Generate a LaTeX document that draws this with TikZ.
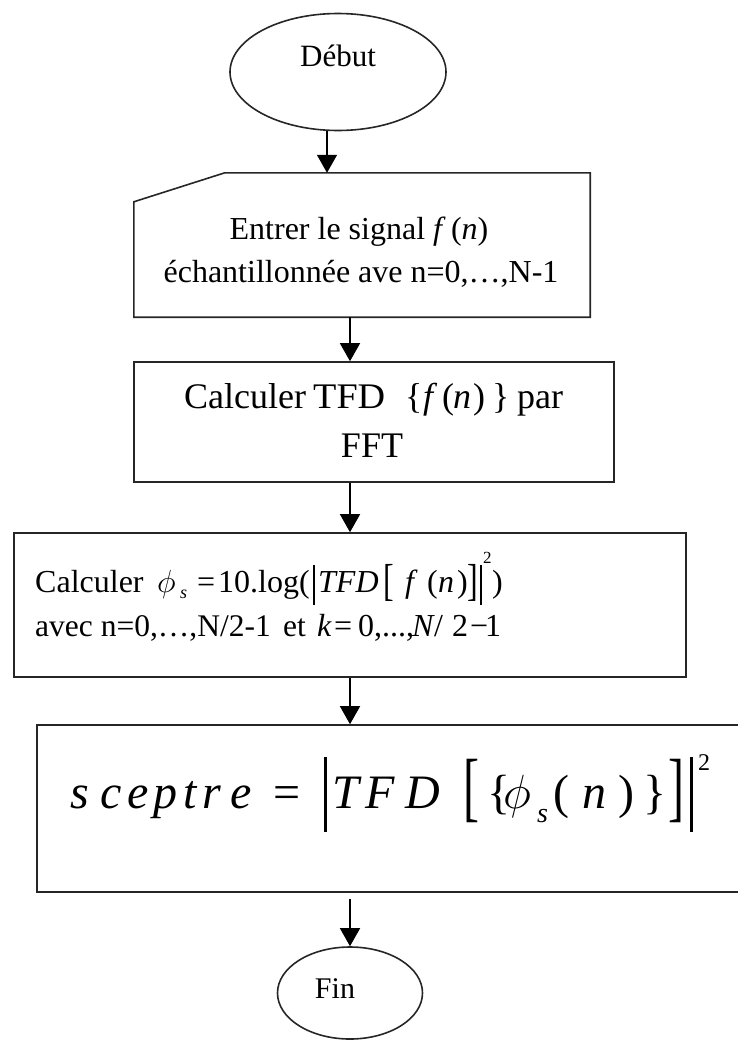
\RequirePackage{fix-cm}
\documentclass[tikz,border=0pt]{standalone}
\usepackage{fontspec}
\setmainfont{Liberation Serif}
\usepackage{graphicx}
\usetikzlibrary{shapes.geometric,arrows.meta}
\newcommand\gbx[2]{\makebox[#1][l]{#2}}
\newcommand\vbarx[3]{\raisebox{-#2}{\rule{#1}{#3}}}
\begin{document}
\begin{tikzpicture}[x=1pt,y=-1pt,
  boxline/.style={draw=black!85,line width=1.6pt},
  arr/.style={line width=1.5pt,-{Triangle[length=18pt,width=20pt]}},
  lbl/.style={inner sep=0pt,anchor=base},
  lblw/.style={inner sep=0pt,anchor=base west}]
\useasboundingbox (0,0) rectangle (737,1042);

% shapes
\node[ellipse,boxline,inner sep=0pt,minimum width=216pt,minimum height=117pt] (debut) at (338,72) {};
\node[rectangle,draw=none,inner sep=0pt,minimum width=456pt,minimum height=144pt] (inp) at (362,245) {};
\draw[boxline,line join=miter] ([xshift=91pt]inp.north west) -- (inp.north east) -- (inp.south east) -- (inp.south west) -- ([yshift=-29pt]inp.north west) -- cycle;
\node[rectangle,boxline,inner sep=0pt,minimum width=480pt,minimum height=120pt] (tfd) at (374,422) {};
\node[rectangle,boxline,inner sep=0pt,minimum width=672pt,minimum height=144pt] (phi) at (350,605) {};
\node[rectangle,boxline,inner sep=0pt,minimum width=743pt,minimum height=167pt] (sce) at (408.5,808.5) {};
\node[ellipse,boxline,inner sep=0pt,minimum width=145pt,minimum height=92pt] (fin) at (350,993) {};

% texts
\node[lbl,font=\fontsize{31}{36}\selectfont] (tdebut) at (338,66) {Début};
\node[lbl,font=\fontsize{32}{38}\selectfont] (tinp1) at (359,239) {Entrer le signal \textit{f}\,(\textit{n})};
\node[lbl,font=\fontsize{32}{38}\selectfont] (tinp2) at (361,282) {échantillonnée ave n=0,…,N-1};

\node[lblw,font=\fontsize{36}{42}\selectfont] (ttfd1) at (184,408) {\gbx{129pt}{Calculer}\gbx{92pt}{\scalebox{1.06}[1]{TFD}}\gbx{18pt}{\{}\gbx{19pt}{\itshape f}\gbx{11pt}{(}\gbx{20pt}{\itshape n}\gbx{19pt}{)}\gbx{25pt}{\}}par};
\node[lbl,font=\fontsize{36}{42}\selectfont] (ttfd2) at (372,457) {FFT};

\node[lblw,font=\fontsize{32}{38}\selectfont] (tphi1) at (35,592) {\gbx{122pt}{Calculer}\gbx{23pt}{$\phi$}\gbx{17pt}{\raisebox{-6pt}{\fontsize{18}{18}\selectfont\itshape s}}\gbx{21pt}{=}\gbx{95pt}{10.log(}\gbx{5pt}{\vbarx{1.6pt}{13pt}{40pt}}\gbx{65pt}{\itshape TFD}\gbx{22pt}{\raisebox{-3.5pt}{\scalebox{1}[1.4]{[}}}\gbx{22pt}{\itshape f}\gbx{11pt}{(}\gbx{19pt}{\itshape n}\gbx{10pt}{)}\gbx{13pt}{\raisebox{-3.5pt}{\scalebox{1}[1.4]{]}}}\gbx{3pt}{\vbarx{1.6pt}{13pt}{40pt}}\gbx{9pt}{\raisebox{29pt}{\fontsize{17}{17}\selectfont 2}})};
\node[lblw,font=\fontsize{31.5}{36}\selectfont] (tphi2) at (35,636) {\gbx{248pt}{avec n=0,…,N/2-1}\gbx{34pt}{et}{\fontsize{32}{38}\selectfont\gbx{17pt}{\itshape k}\gbx{24pt}{=}\gbx{54pt}{0,...,}\gbx{22pt}{\itshape N}\gbx{18pt}{/}\gbx{18pt}{2}\gbx{15pt}{−}1}};

\node[lblw,font=\fontsize{48}{54}\selectfont\itshape] (tsce) at (70,808) {\gbx{30pt}{s}\gbx{27pt}{c}\gbx{26pt}{e}\gbx{30pt}{p}\gbx{19pt}{t}\gbx{28pt}{r}\gbx{43pt}{e}%
\gbx{51pt}{\upshape =}%
\gbx{8pt}{\vbarx{2.4pt}{24pt}{75pt}}%
\gbx{33pt}{T}\gbx{40pt}{F}\gbx{58pt}{D}%
\gbx{24pt}{\upshape\raisebox{-4pt}{\scalebox{1}[1.6]{[}}}%
\gbx{16pt}{\upshape\{}%
\gbx{34pt}{$\phi$}%
\gbx{16pt}{\raisebox{-14pt}{\fontsize{28}{28}\selectfont s}}%
\gbx{29pt}{\upshape(}%
\gbx{36pt}{n}%
\gbx{25pt}{\upshape)}%
\gbx{25pt}{\upshape\}}%
\gbx{22pt}{\upshape\raisebox{-4pt}{\scalebox{1}[1.6]{]}}}%
\gbx{8pt}{\vbarx{2.4pt}{24pt}{75pt}}%
{\upshape\raisebox{38pt}{\fontsize{24}{24}\selectfont 2}}};

\node[lbl,font=\fontsize{30}{36}\selectfont] (tfin) at (335,998) {Fin};

% connectors
\draw[arr] ([xshift=-11pt]debut.south) -- ([xshift=-11pt]debut.south |- inp.north);
\draw[arr] ([xshift=-12pt]inp.south) -- ([xshift=-12pt]inp.south |- tfd.north);
\draw[arr] (tfd.south -| phi.north) -- (phi.north);
\draw[arr] (phi.south) -- (phi.south |- sce.north);
\draw[arr] ([yshift=-6pt]sce.south -| fin.north) -- (fin.north);
\end{tikzpicture}
\end{document}
